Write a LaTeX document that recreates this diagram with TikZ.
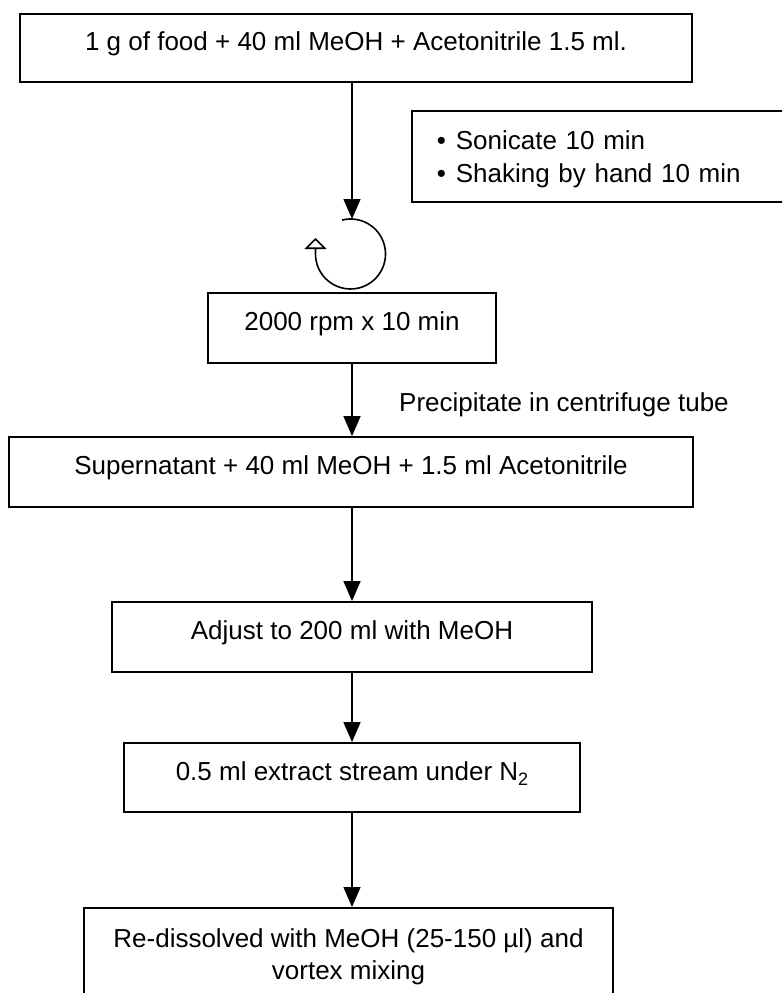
\documentclass[tikz,border=0pt]{standalone}
\usepackage{fontspec}
\setmainfont{Liberation Sans}
\usetikzlibrary{arrows.meta,calc}
\begin{document}
\begin{tikzpicture}[x=1pt,y=-1pt,
  box/.style={draw, line width=1.8pt, inner sep=0pt, minimum height=70pt,
    text height=19pt, text depth=14pt, font=\fontsize{26}{31}\selectfont},
  mbox/.style={draw, line width=1.8pt, inner sep=0pt},
  arr/.style={line width=1.6pt, -{Triangle[width=17pt,length=20pt]}},
  lbl/.style={font=\fontsize{26}{31}\selectfont, inner sep=0pt}]
\path[use as bounding box, clip] (0,0) rectangle (782,993);
\fill[white] (0,0) rectangle (782,993);
% boxes
\node[box, minimum width=672pt, minimum height=68pt] (top) at (356,48)
  {1 g of food + 40 ml MeOH + Acetonitrile 1.5 ml.};
\node[mbox, anchor=north west, text width=370pt, align=left, inner xsep=25pt,
  font=\fontsize{26}{33}\selectfont] (bul) at (411,110)
  {\rule{0pt}{39pt}\makebox[19pt][l]{\textbullet}Sonicate 10 min\\
   \makebox[19pt][l]{\textbullet}Shaking by hand 10 min\rule[-19pt]{0pt}{19pt}};
\coordinate (ctop) at (352,219);
\coordinate (cc) at (350.5,254);
\coordinate (ctip) at (315.5,238);
\node[box, minimum width=288pt] (rpm) at (352,328) {2000 rpm x 10 min};
\node[lbl, anchor=west] (prec) at (399,405) {Precipitate in centrifuge tube};
\node[box, minimum width=684pt] (sup) at (351,472)
  {Supernatant + 40 ml MeOH + 1.5 ml Acetonitrile};
\node[box, minimum width=480pt] (adj) at (352,637) {Adjust to 200 ml with MeOH};
\node[box, minimum width=456pt, minimum height=69pt] (ext) at (352,777.5)
  {0.5 ml extract stream under N\raisebox{-5pt}{\fontsize{18}{18}\selectfont 2}};
\node[mbox, anchor=north, minimum width=529pt, align=center,
  font=\fontsize{26}{32}\selectfont] (fin) at (348.5,907)
  {\rule{0pt}{40pt}Re-dissolved with MeOH (25-150 µl) and\\
   vortex mixing\rule[-40pt]{0pt}{40pt}};
% connectors
\draw[arr] (ctop |- top.south) -- (ctop);
\draw[line width=1.6pt, -{Triangle[open,width=22pt,length=11pt,fill=white]}]
  ($(cc)+(-104:35)$) arc[start angle=-104, end angle=180, radius=35] -- (ctip);
\draw[arr] (rpm.south) -- (rpm.south |- sup.north);
\draw[arr] (adj.north |- sup.south) -- (adj.north);
\draw[arr] (adj.south) -- (ext.north);
\draw[arr] (ext.south) -- (ext.south |- fin.north);
\end{tikzpicture}
\end{document}
